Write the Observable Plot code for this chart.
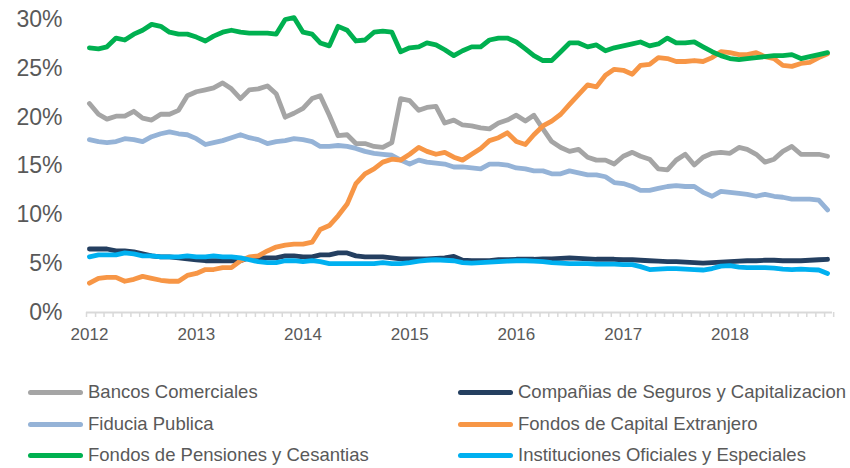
<!DOCTYPE html>
<html><head><meta charset="utf-8">
<script src="https://cdn.jsdelivr.net/npm/d3@7"></script>
<script src="https://cdn.jsdelivr.net/npm/@observablehq/plot@0.6"></script>
<style>
body{margin:0;background:#fff;font-family:Arial,"Liberation Sans",sans-serif;}
#wrap{position:relative;width:850px;height:468px;overflow:hidden;}
#chart{position:absolute;left:0;top:0;}
.item{position:absolute;display:flex;align-items:center;height:22px;line-height:22px;font-size:18.5px;color:#595959;white-space:nowrap;}
.sw{width:55px;height:5px;border-radius:3px;margin-right:5px;}
</style></head><body>
<div id="wrap"><div id="chart"></div><div id="legend"></div></div>
<script>
const seriesNames = ["Bancos Comerciales","Compañias de Seguros y Capitalizacion","Fiducia Publica","Fondos de Capital Extranjero","Fondos de Pensiones y Cesantias","Instituciones Oficiales y Especiales"];
const seriesColors = ["#A5A5A5","#243F60","#95B3D7","#F79646","#00B050","#00B0F0"];
const startYear = 2012, nMonths = 84;
const yearLabels = ["2012","2013","2014","2015","2016","2017","2018"];
const yTicks = [0,5,10,15,20,25,30];

const bancos = [21.4,20.3,19.8,20.1,20.1,20.6,19.9,19.7,20.3,20.3,
20.7,22.2,22.6,22.8,23.0,23.5,22.9,21.9,22.8,22.9,
23.2,22.4,20.0,20.4,20.9,21.9,22.2,20.2,18.1,18.2,
17.3,17.3,17.0,16.9,17.4,21.9,21.7,20.7,21.0,21.1,
19.4,19.7,19.2,19.1,18.9,18.8,19.4,19.7,20.2,19.6,
20.2,18.8,17.5,16.9,16.5,16.7,15.9,15.6,15.6,15.2,
16.0,16.4,16.0,15.7,14.7,14.6,15.6,16.2,15.1,15.9,
16.3,16.4,16.3,16.9,16.7,16.2,15.4,15.7,16.5,17.0,
16.2,16.2,16.2,16.0];
const companias = [6.5,6.5,6.5,6.3,6.3,6.2,6.0,5.8,5.7,5.7,
5.6,5.5,5.4,5.3,5.3,5.3,5.3,5.3,5.6,5.6,
5.6,5.6,5.8,5.8,5.7,5.7,5.9,5.9,6.1,6.1,
5.8,5.7,5.7,5.7,5.6,5.5,5.5,5.5,5.5,5.55,
5.6,5.75,5.35,5.3,5.3,5.3,5.4,5.4,5.45,5.45,
5.45,5.5,5.5,5.55,5.6,5.55,5.5,5.45,5.45,5.45,
5.4,5.4,5.35,5.3,5.25,5.2,5.2,5.15,5.1,5.05,
5.1,5.15,5.2,5.25,5.3,5.3,5.35,5.35,5.3,5.3,
5.3,5.35,5.4,5.45];
const fiducia = [17.7,17.5,17.4,17.5,17.8,17.7,17.5,18.0,18.3,18.5,
18.3,18.2,17.8,17.2,17.4,17.6,17.9,18.2,17.9,17.7,
17.3,17.5,17.6,17.8,17.7,17.5,17.0,17.0,17.1,17.0,
16.8,16.5,16.3,16.2,16.1,15.6,15.2,15.6,15.4,15.3,
15.2,14.9,14.9,14.8,14.7,15.2,15.2,15.1,14.8,14.7,
14.5,14.5,14.2,14.2,14.5,14.3,14.1,14.1,13.9,13.3,
13.2,12.9,12.5,12.5,12.7,12.9,13.0,12.9,12.9,12.3,
11.9,12.4,12.3,12.2,12.1,11.9,12.1,11.9,11.8,11.6,
11.6,11.6,11.5,10.5];
const capitalExt = [3.0,3.5,3.6,3.6,3.2,3.4,3.7,3.5,3.3,3.2,
3.2,3.8,4.0,4.4,4.4,4.6,4.6,5.3,5.7,5.8,
6.3,6.7,6.9,7.0,7.0,7.2,8.5,8.9,9.9,11.1,
13.2,14.2,14.7,15.4,15.7,15.6,16.2,16.9,16.5,16.2,
16.4,15.9,15.6,16.2,16.8,17.6,17.9,18.4,17.5,17.2,
18.2,19.1,19.6,20.3,21.3,22.3,23.3,23.1,24.3,24.9,
24.8,24.4,25.3,25.4,26.1,26.0,25.7,25.7,25.8,25.7,
26.1,26.7,26.6,26.4,26.4,26.6,26.2,26.0,25.3,25.2,
25.5,25.6,26.1,26.5];
const pensiones = [27.1,27.0,27.2,28.1,27.9,28.5,28.9,29.5,29.3,28.7,
28.5,28.5,28.2,27.8,28.3,28.7,28.9,28.7,28.6,28.6,
28.6,28.5,30.0,30.2,28.7,28.5,27.6,27.3,29.3,28.9,
27.8,27.9,28.7,28.8,28.7,26.7,27.1,27.2,27.6,27.4,
26.9,26.3,26.8,27.2,27.2,27.9,28.1,28.1,27.7,27.0,
26.3,25.8,25.8,26.7,27.6,27.6,27.2,27.4,26.8,27.1,
27.3,27.5,27.7,27.3,27.5,28.1,27.6,27.6,27.7,27.2,
26.7,26.3,26.0,25.9,26.0,26.1,26.2,26.3,26.3,26.4,
26.0,26.2,26.4,26.6];
const instituciones = [5.7,5.9,5.9,5.9,6.1,6.0,5.8,5.8,5.7,5.7,
5.7,5.8,5.7,5.7,5.8,5.7,5.7,5.6,5.4,5.2,
5.1,5.1,5.3,5.3,5.2,5.3,5.2,5.0,5.0,5.0,
5.0,5.0,5.0,5.1,5.0,5.0,5.1,5.25,5.35,5.4,
5.35,5.3,5.1,5.05,5.1,5.15,5.2,5.25,5.3,5.3,
5.25,5.2,5.1,5.05,5.0,5.0,5.0,4.95,4.95,4.95,
4.9,4.9,4.7,4.4,4.45,4.5,4.5,4.45,4.4,4.35,
4.5,4.75,4.8,4.65,4.6,4.6,4.6,4.55,4.45,4.4,
4.45,4.4,4.35,4.0];

const seriesValues = [bancos, companias, fiducia, capitalExt, pensiones, instituciones];
const dates = d3.range(nMonths).map(i => new Date(Date.UTC(startYear, i, 1)));
const rows = [];
seriesNames.forEach((name, k) => seriesValues[k].forEach((v, i) => rows.push({date: dates[i], value: v, series: name})));

const monthTicks = d3.range(nMonths + 1).map(i => d3.utcDay.offset(new Date(Date.UTC(startYear, i, 1)), -10));
const yearTicks = yearLabels.map(y => new Date(Date.UTC(+y, 0, 1)));

const chart = Plot.plot({
  width: 850, height: 345,
  marginLeft: 86, marginRight: 18, marginTop: 19, marginBottom: 33,
  style: {fontFamily: "Arial, 'Liberation Sans', sans-serif", color: "#595959", background: "#fff"},
  x: {type: "utc", domain: [new Date(Date.UTC(2011, 11, 22)), new Date(Date.UTC(2018, 11, 18))]},
  y: {domain: [0, 30]},
  color: {domain: seriesNames, range: seriesColors},
  marks: [
    Plot.ruleY([0], {stroke: "#D9D9D9", strokeWidth: 2}),
    Plot.axisX({ticks: monthTicks, tickSize: 5, tickFormat: () => "", stroke: "#D9D9D9", strokeWidth: 1.5}),
    Plot.axisX({ticks: yearTicks, tickSize: 0, tickPadding: 15, tickFormat: d3.utcFormat("%Y"), fontSize: 17, fill: "#595959", label: null}),
    Plot.axisY({ticks: yTicks, tickSize: 0, tickPadding: 24, tickFormat: d => d + "%", fontSize: 23, fill: "#595959", label: null}),
    Plot.line(rows, {x: "date", y: "value", z: "series", stroke: "series", strokeWidth: 4.8, strokeLinejoin: "round", strokeLinecap: "round"})
  ]
});
document.getElementById("chart").appendChild(chart);

const legend = document.getElementById("legend");
const rowsY = [392, 424, 455], colsX = [28, 458];
seriesNames.forEach((name, k) => {
  const item = document.createElement("div");
  item.className = "item";
  item.style.left = colsX[k % 2] + "px";
  item.style.top = (rowsY[Math.floor(k / 2)] - 11) + "px";
  const sw = document.createElement("span");
  sw.className = "sw"; sw.style.background = seriesColors[k];
  const tx = document.createElement("span"); tx.textContent = name;
  item.appendChild(sw); item.appendChild(tx);
  legend.appendChild(item);
});
</script>
</body></html>
